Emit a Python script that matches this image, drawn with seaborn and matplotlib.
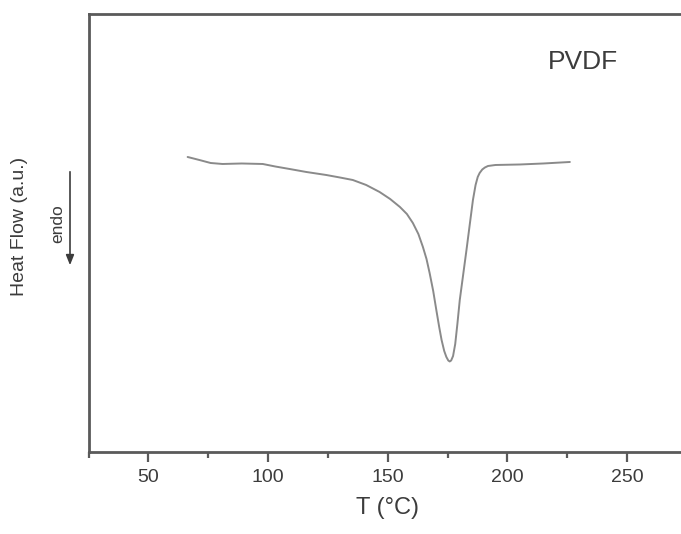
import matplotlib
matplotlib.use("Agg")
import matplotlib.pyplot as plt
from matplotlib.ticker import MultipleLocator, NullLocator
import pandas as pd
import seaborn as sns

# DSC trace of PVDF (heat flow in arbitrary units)
temperature = [66.4, 71.3, 76.0, 81.0, 89.0, 97.8, 103.0, 109.0, 116.0, 124.3,
               130.0, 135.4, 141.0, 146.6, 151.0, 155.1, 158.0, 160.5, 162.8,
               164.7, 166.2, 167.5, 169.0, 170.3, 171.5, 172.5, 173.6, 174.5,
               175.3, 175.9, 176.5, 177.3, 178.2, 179.1, 180.1, 181.5, 182.9,
               184.3, 185.6, 186.7, 187.6, 188.4, 189.5, 190.6, 191.9, 195.0,
               205.2, 215.0, 226.1]
heat_flow = [2.95, 2.92, 2.89, 2.88, 2.885, 2.88, 2.855, 2.83, 2.80, 2.77,
             2.745, 2.72, 2.67, 2.60, 2.53, 2.45, 2.38, 2.29, 2.18,
             2.05, 1.93, 1.79, 1.61, 1.42, 1.25, 1.12, 1.01, 0.95,
             0.915, 0.905, 0.915, 0.96, 1.08, 1.28, 1.52, 1.77, 2.02,
             2.28, 2.52, 2.67, 2.75, 2.79, 2.825, 2.845, 2.86, 2.87,
             2.875, 2.885, 2.90]

x_ticks = [50, 100, 150, 200, 250]
sample_label = "PVDF"

df = pd.DataFrame({"T": temperature, "HF": heat_flow})

sns.set_theme(style="white")
plt.rcParams["font.family"] = ["Liberation Sans", "DejaVu Sans"]

fig = plt.figure(figsize=(6.81, 5.34), dpi=100)
ax = fig.add_axes([0.1300, 0.1536, 0.8787, 0.8202])

sns.lineplot(data=df, x="T", y="HF", ax=ax, color="#8a8a8a", linewidth=1.4,
             sort=False)

ax.set_xlim(25, 275)
ax.set_ylim(0, 4.38)
ax.set_xticks(x_ticks)
ax.xaxis.set_minor_locator(MultipleLocator(25))
ax.yaxis.set_major_locator(NullLocator())

spine_color = "#5a5a5a"
for side in ["left", "bottom", "top"]:
    ax.spines[side].set_color(spine_color)
    ax.spines[side].set_linewidth(2.0)
ax.spines["right"].set_visible(False)

ax.tick_params(axis="x", which="major", direction="out", length=7, width=1.6,
               color=spine_color, labelsize=14, labelcolor="#3c3c3c", pad=5,
               bottom=True)
ax.tick_params(axis="x", which="minor", direction="out", length=4, width=1.6,
               color=spine_color, bottom=True)

ax.set_xlabel("T (°C)", fontsize=17, color="#3c3c3c", labelpad=8)
ax.set_ylabel("")

fig.text(20 / 681, 1 - 226 / 534, "Heat Flow (a.u.)", rotation=90,
         ha="center", va="center", fontsize=14, color="#3c3c3c")
fig.text(58 / 681, 1 - 224 / 534, "endo", rotation=90, ha="center",
         va="center", fontsize=12.5, color="#3c3c3c")
ax.annotate("", xy=(70 / 681, 1 - 268 / 534), xycoords="figure fraction",
            xytext=(70 / 681, 1 - 169 / 534), textcoords="figure fraction",
            arrowprops=dict(arrowstyle="-|>,head_length=0.5,head_width=0.2",
                            color="#3c3c3c", lw=1.2))

fig.text(583 / 681, 1 - 62 / 534, sample_label, ha="center", va="center",
         fontsize=19, color="#3c3c3c")

fig.savefig("out.png", dpi=100)
